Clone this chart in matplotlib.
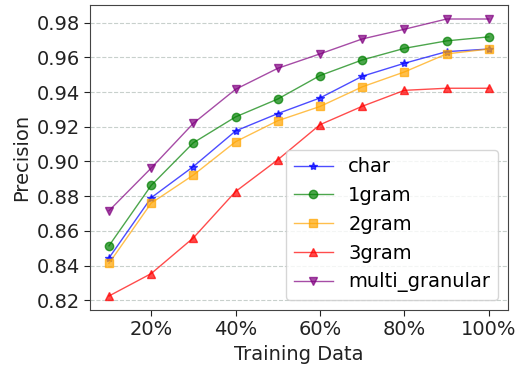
import matplotlib
matplotlib.use("Agg")
import matplotlib.pyplot as plt
from matplotlib.ticker import FuncFormatter

x = [10, 20, 30, 40, 50, 60, 70, 80, 90, 100]
char = [0.8444, 0.8791, 0.8971, 0.9176, 0.9276, 0.9366, 0.9491, 0.9566, 0.9633, 0.9648]
gram1 = [0.8514, 0.8862, 0.9108, 0.9257, 0.9360, 0.9495, 0.9585, 0.9652, 0.9695, 0.9718]
gram2 = [0.8413, 0.8760, 0.8922, 0.9114, 0.9235, 0.9317, 0.9430, 0.9516, 0.9620, 0.9648]
gram3 = [0.8225, 0.8354, 0.8560, 0.8827, 0.9010, 0.9212, 0.9318, 0.9410, 0.9422, 0.9422]
multi = [0.8716, 0.8962, 0.9220, 0.9416, 0.9537, 0.9620, 0.9706, 0.9762, 0.9821, 0.9821]

series = [
    ("char", char, "blue", "*"),
    ("1gram", gram1, "green", "o"),
    ("2gram", gram2, "orange", "s"),
    ("3gram", gram3, "red", "^"),
    ("multi_granular", multi, "purple", "v"),
]

fig = plt.figure(figsize=(5.23, 3.68), dpi=100)
ax = fig.add_axes([0.172, 0.158, 0.799, 0.828])

for name, vals, col, mk in series:
    ax.plot(x, vals, color=col, marker=mk, markersize=6, linewidth=1, alpha=0.7, label=name)

ax.set_xticks([20, 40, 60, 80, 100])
ax.xaxis.set_major_formatter(FuncFormatter(lambda v, p: f"{int(v)}%"))
ax.set_yticks([0.82, 0.84, 0.86, 0.88, 0.90, 0.92, 0.94, 0.96, 0.98])
ax.yaxis.set_major_formatter(FuncFormatter(lambda v, p: f"{v:.2f}"))
ax.grid(axis="y", linestyle="--", color="#c8d0cc", linewidth=0.8)
ax.set_axisbelow(True)
for s in ax.spines.values():
    s.set_color("#444444")
ax.tick_params(labelsize=14, colors="#222222", length=4)
ax.set_xlabel("Training Data", fontsize=14, color="#222222")
ax.set_ylabel("Precision", fontsize=14, color="#222222")
ax.legend(loc="lower right", fontsize=14, handlelength=2, framealpha=0.8)

fig.savefig("out.png", dpi=100)
